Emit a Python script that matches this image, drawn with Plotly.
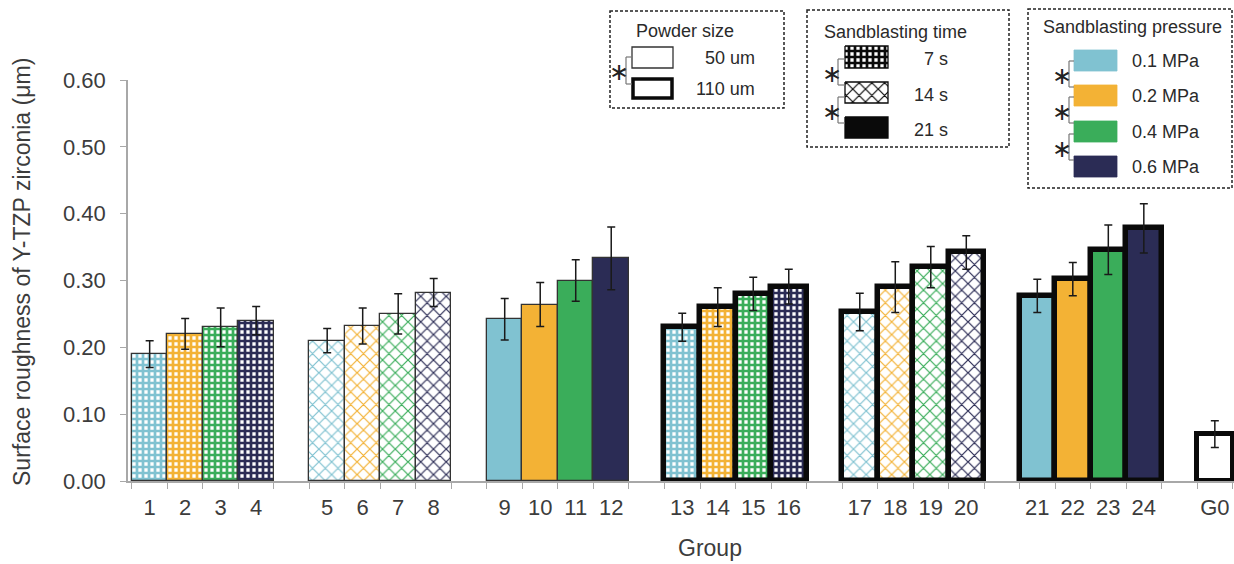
import plotly.graph_objects as go

# ---------------- data ----------------
groups = ["1", "2", "3", "4", "5", "6", "7", "8", "9", "10", "11", "12",
          "13", "14", "15", "16", "17", "18", "19", "20", "21", "22", "23", "24", "G0"]
roughness = [0.190, 0.220, 0.230, 0.240,
             0.210, 0.232, 0.250, 0.282,
             0.242, 0.264, 0.300, 0.333,
             0.230, 0.260, 0.280, 0.291,
             0.253, 0.290, 0.320, 0.342,
             0.277, 0.302, 0.346, 0.378,
             0.070]
roughness_sd = [0.020, 0.023, 0.029, 0.021,
                0.018, 0.027, 0.030, 0.021,
                0.031, 0.033, 0.031, 0.047,
                0.021, 0.029, 0.025, 0.026,
                0.028, 0.038, 0.031, 0.025,
                0.025, 0.025, 0.037, 0.037,
                0.020]
powder_um = [50] * 12 + [110] * 12 + [None]
blast_time_s = ([7] * 4 + [14] * 4 + [21] * 4) * 2 + [None]
pressure_mpa = [0.1, 0.2, 0.4, 0.6] * 6 + [None]

y_ticks = [0.0, 0.1, 0.2, 0.3, 0.4, 0.5, 0.6]

# ---------------- styles ----------------
W, H = 1234, 564
pressure_color = {0.1: "#80C2D1", 0.2: "#F3B235", 0.4: "#3AAD5A", 0.6: "#2B2C55", None: "#FFFFFF"}
time_shape = {7: "+", 14: "x", 21: "", None: ""}
time_solidity = {7: 0.7, 14: 0.25, 21: 0.3, None: 0.3}
time_size = {7: 6, 14: 9, 21: 8, None: 8}
powder_linew = {50: 1.3, 110: 5.5, None: 5}
powder_linec = {50: "#333333", 110: "#0a0a0a", None: "#0a0a0a"}

# slot positions: 4 bars per set, one empty slot between sets
xpos = [i + i // 4 for i in range(len(groups))]

fig = go.Figure()
for i, g in enumerate(groups):
    c = pressure_color[pressure_mpa[i]]
    t = blast_time_s[i]
    pat = dict(shape=time_shape[t], fillmode="replace", fgcolor=c, bgcolor="white",
               solidity=time_solidity[t], size=time_size[t]) if time_shape[t] else dict(shape="")
    fig.add_trace(go.Bar(
        x=[xpos[i]], y=[roughness[i]], width=1.0,
        marker=dict(color=c,
                    line=dict(color=powder_linec[powder_um[i]], width=powder_linew[powder_um[i]]),
                    pattern=pat),
        error_y=dict(type="data", array=[roughness_sd[i]], color="#1a1a1a", thickness=1.5, width=4),
        showlegend=False, name=g,
    ))

x_lo, x_hi = -0.61, 30.54
axis_grey = "#A8A8A8"
text_col = "#3c3c3c"
font_fam = "Liberation Sans, Arial, sans-serif"

fig.update_layout(
    width=W, height=H,
    margin=dict(l=0, r=0, t=0, b=0, autoexpand=False),
    paper_bgcolor="white", plot_bgcolor="rgba(0,0,0,0)",
    font=dict(family=font_fam, color=text_col),
    bargap=0, barmode="overlay",
    xaxis=dict(domain=[128 / W, 1], range=[x_lo, x_hi],
               tickmode="array", tickvals=xpos, ticktext=groups,
               ticks="", showgrid=False, zeroline=False,
               showline=True, linecolor=axis_grey, linewidth=1.5,
               tickfont=dict(size=22, color=text_col), automargin=False,
               ticklabelstandoff=6,
               minor=dict(tickmode="linear", tick0=-0.5, dtick=1,
                          ticks="outside", ticklen=6, tickcolor=axis_grey, tickwidth=1.2,
                          showgrid=False)),
    yaxis=dict(domain=[(H - 481) / H, (H - 80) / H], range=[0, 0.6],
               tickmode="array", tickvals=y_ticks, tickformat=".2f",
               ticks="outside", ticklen=6, tickcolor=axis_grey, tickwidth=1.2,
               showgrid=False, zeroline=False, automargin=False,
               showline=True, linecolor=axis_grey, linewidth=1.5,
               ticklabelstandoff=10,
               tickfont=dict(size=22, color=text_col)),
    xaxis2=dict(domain=[0, 1], range=[0, W], visible=False, anchor="y2", fixedrange=True),
    yaxis2=dict(domain=[0, 1], range=[H, 0], visible=False, anchor="x2", fixedrange=True),
)

def PX(x):
    return x / W

def PY(y):
    return 1 - y / H

ann = []
shp = []

ann.append(dict(x=PX(22), y=PY(272), xref="paper", yref="paper",
                text="Surface roughness of Y-TZP zirconia (μm)", textangle=-90,
                showarrow=False, font=dict(size=23, color=text_col),
                xanchor="center", yanchor="middle"))
ann.append(dict(x=PX(710), y=PY(548), xref="paper", yref="paper", text="Group",
                showarrow=False, font=dict(size=23, color=text_col),
                xanchor="center", yanchor="middle"))

def dashed_box(x0, y0, x1, y1):
    shp.append(dict(type="rect", xref="paper", yref="paper",
                    x0=PX(x0), x1=PX(x1), y0=PY(y0), y1=PY(y1),
                    line=dict(color="#222222", width=1.5, dash="3px,2px"),
                    fillcolor="rgba(0,0,0,0)"))

def label(x, y, t, anchor="left", size=18):
    ann.append(dict(x=PX(x), y=PY(y), xref="paper", yref="paper", text=t,
                    showarrow=False, font=dict(size=size, color="#2a2a2a"),
                    xanchor=anchor, yanchor="middle"))

def rect(x0, y0, x1, y1, fill, lc="#222222", lw=1.2):
    shp.append(dict(type="rect", xref="paper", yref="paper",
                    x0=PX(x0), x1=PX(x1), y0=PY(y0), y1=PY(y1),
                    line=dict(color=lc, width=lw), fillcolor=fill))

def line(x0, y0, x1, y1):
    shp.append(dict(type="line", xref="paper", yref="paper",
                    x0=PX(x0), x1=PX(x1), y0=PY(y0), y1=PY(y1),
                    line=dict(color="#777777", width=1.2)))

def bracket(x, ya, yb, xr, star_x):
    line(x, ya, x, yb)
    line(x, ya, xr, ya)
    line(x, yb, xr, yb)
    line(x - 3, (ya + yb) / 2, x, (ya + yb) / 2)
    ann.append(dict(x=PX(star_x), y=PY((ya + yb) / 2 + 2), xref="paper", yref="paper",
                    text="∗", showarrow=False, font=dict(size=24, color="#222222",
                    family="DejaVu Sans"), xanchor="center", yanchor="middle"))

# Powder size legend
dashed_box(610, 11, 784, 108)
label(684.5, 31, "Powder size", anchor="center")
rect(632, 47, 673, 68, "white", "#333333", 1.3)
rect(633, 79, 672, 98, "white", "#0a0a0a", 3.5)
label(757, 58, "50 um", anchor="right")
label(757, 89, "110 um", anchor="right")
bracket(626, 57, 84, 632, 619)

# Sandblasting time legend
dashed_box(807, 10, 1009, 147)
label(895, 32, "Sandblasting time", anchor="center")
for (y0, y1, t, txt) in [(46, 68, 7, "7 s"), (82, 103, 14, "14 s"), (117, 138, 21, "21 s")]:
    kw = {}
    if time_shape[t]:
        kw["fillpattern"] = dict(shape=time_shape[t], fgcolor="#0a0a0a", bgcolor="white",
                                 solidity=time_solidity[t], size=time_size[t], fillmode="replace")
    fig.add_trace(go.Scatter(
        x=[845, 888, 888, 845, 845], y=[y0, y0, y1, y1, y0], xaxis="x2", yaxis="y2",
        mode="lines", fill="toself",
        fillcolor="#0a0a0a",
        line=dict(color="#0a0a0a", width=1.3), showlegend=False, hoverinfo="skip", **kw))
    label(950, (y0 + y1) / 2 + 2, txt, anchor="right")
bracket(838, 59, 85, 845, 832)
bracket(838, 97, 123, 845, 832)

# Sandblasting pressure legend
dashed_box(1028, 9, 1232, 188)
label(1132, 27, "Sandblasting pressure", anchor="center")
for (y0, y1), p in zip([(50, 71), (85, 106), (121, 142), (156, 177)], [0.1, 0.2, 0.4, 0.6]):
    rect(1074, y0, 1117, y1, pressure_color[p], pressure_color[p], 0.8)
    label(1130, (y0 + y1) / 2, f"{p} MPa")
bracket(1069, 61, 87, 1074, 1062)
bracket(1069, 97, 123, 1074, 1062)
bracket(1069, 134, 160, 1074, 1062)

fig.update_layout(annotations=ann, shapes=shp)
fig.write_html("out.html", config={"displayModeBar": False},
               post_script="document.body.style.margin='0';")
